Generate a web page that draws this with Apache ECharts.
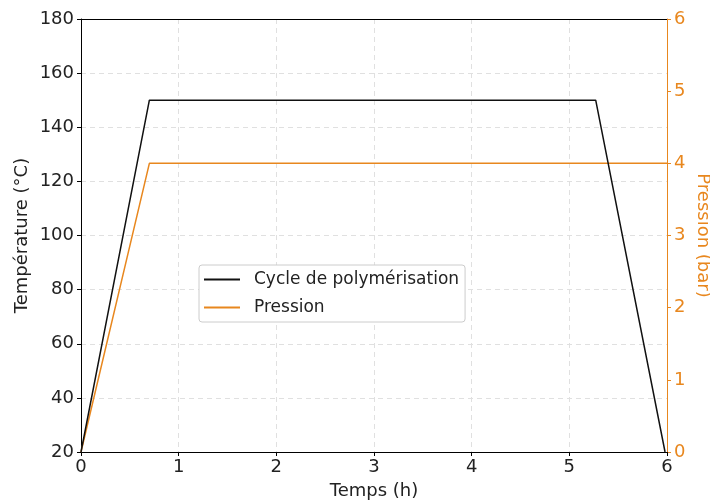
<!DOCTYPE html>
<html>
<head>
<meta charset="utf-8">
<script src="https://cdn.jsdelivr.net/npm/echarts@6/dist/echarts.min.js"></script>
<style>html,body{margin:0;padding:0;background:#fff}#c{width:710px;height:502px}</style>
</head>
<body>
<div id="c"></div>
<script>
var tempTimes = [0, 0.7, 5.27, 5.98];
var tempValues = [20, 150, 150, 20];
var pressTimes = [0, 0.7, 6];
var pressValues = [0, 4, 4];
var xTicks = [0, 1, 2, 3, 4, 5, 6];
var tempTicks = [20, 40, 60, 80, 100, 120, 140, 160, 180];
var pressTicks = [0, 1, 2, 3, 4, 5, 6];

var ORANGE = '#E8871E';
var FONT = 'DejaVu Sans';
var FS = 18;

function pairs(xs, ys) { return xs.map(function (x, i) { return [x, ys[i]]; }); }

var chart = echarts.init(document.getElementById('c'), null, { renderer: 'canvas' });
chart.setOption({
  animation: false,
  backgroundColor: '#fff',
  textStyle: { fontFamily: FONT },
  grid: { left: 81, right: 43, top: 19, bottom: 50, containLabel: false, outerBoundsMode: 'none' },
  legend: {
    orient: 'vertical',
    left: 199, top: 265,
    backgroundColor: '#fff',
    borderColor: '#cccccc', borderWidth: 1, borderRadius: 3,
    padding: [6, 6, 6, 5],
    itemGap: 11,
    itemWidth: 36, itemHeight: 2,
    icon: 'rect',
    textStyle: { fontFamily: FONT, fontSize: 17, color: '#222', padding: [0, 0, 0, 9] },
    data: [{ name: 'Cycle de polymérisation', itemStyle: { color: '#111' } },
           { name: 'Pression', itemStyle: { color: ORANGE } }]
  },
  xAxis: {
    type: 'value', min: xTicks[0], max: xTicks[xTicks.length - 1], interval: 1,
    name: 'Temps (h)', nameLocation: 'middle', nameGap: 30, nameMoveOverlap: false,
    nameTextStyle: { fontFamily: FONT, fontSize: FS, color: '#222' },
    axisLine: { show: true, onZero: false, lineStyle: { color: '#000', width: 1 } },
    axisTick: { show: true, length: 4, inside: false, lineStyle: { color: '#000' } },
    axisLabel: { fontFamily: FONT, fontSize: FS, color: '#222', margin: 6 },
    splitLine: { show: true, showMinLine: false, showMaxLine: false, lineStyle: { color: '#e0e0e0', type: [5, 4], width: 1 } }
  },
  yAxis: [{
    type: 'value', min: tempTicks[0], max: tempTicks[tempTicks.length - 1], interval: 20,
    position: 'left',
    name: 'Température (°C)', nameLocation: 'middle', nameGap: 50, nameRotate: 90, nameMoveOverlap: false,
    nameTextStyle: { fontFamily: FONT, fontSize: FS, color: '#222' },
    axisLine: { show: true, lineStyle: { color: '#000', width: 1 } },
    axisTick: { show: true, length: 4, lineStyle: { color: '#000' } },
    axisLabel: { fontFamily: FONT, fontSize: FS, color: '#222', margin: 7 },
    splitLine: { show: true, showMinLine: false, showMaxLine: false, lineStyle: { color: '#e0e0e0', type: [5, 4], width: 1 } }
  }, {
    type: 'value', min: pressTicks[0], max: pressTicks[pressTicks.length - 1], interval: 1,
    position: 'right',
    name: 'Pression (bar)', nameLocation: 'middle', nameGap: 27, nameRotate: -90, nameMoveOverlap: false,
    nameTextStyle: { fontFamily: FONT, fontSize: FS, color: ORANGE },
    axisLine: { show: true, lineStyle: { color: ORANGE, width: 1 } },
    axisTick: { show: true, length: 4, lineStyle: { color: ORANGE } },
    axisLabel: { fontFamily: FONT, fontSize: FS, color: ORANGE, margin: 7 },
    splitLine: { show: false }
  }],
  graphic: [{
    type: 'line', z: 10,
    shape: { x1: 81, y1: 19.5, x2: 667, y2: 19.5 },
    style: { stroke: '#000', lineWidth: 1 }
  }, {
    type: 'line', z: 10,
    shape: { x1: 667.5, y1: 19, x2: 667.5, y2: 452 },
    style: { stroke: ORANGE, lineWidth: 1 }
  }],
  series: [{
    name: 'Cycle de polymérisation', type: 'line', yAxisIndex: 0,
    data: pairs(tempTimes, tempValues), showSymbol: false, symbol: 'none',
    lineStyle: { color: '#111', width: 1.5 }, itemStyle: { color: '#111' }, z: 3
  }, {
    name: 'Pression', type: 'line', yAxisIndex: 1,
    data: pairs(pressTimes, pressValues), showSymbol: false, symbol: 'none',
    lineStyle: { color: ORANGE, width: 1.5 }, itemStyle: { color: ORANGE }, z: 2
  }]
});
</script>
</body>
</html>
